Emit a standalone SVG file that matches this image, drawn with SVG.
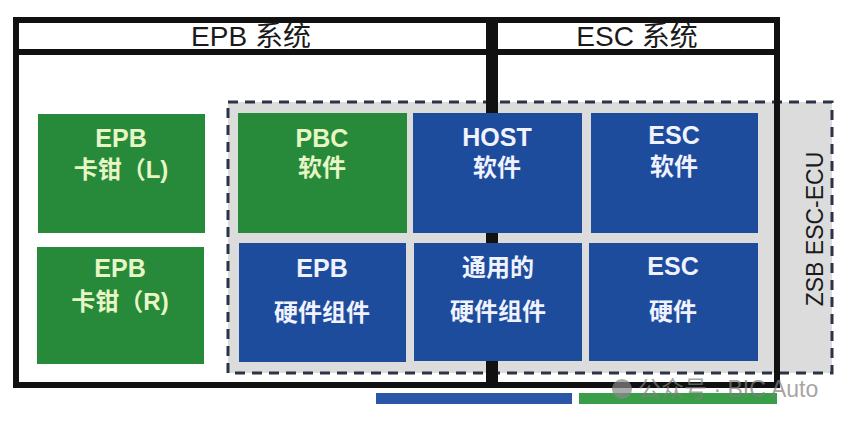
<svg xmlns="http://www.w3.org/2000/svg" width="853" height="423" viewBox="0 0 853 423">
<style>
.hdr{font-family:"Liberation Sans","Noto Sans CJK SC",sans-serif;font-size:28px;fill:#1a1a1a;text-anchor:middle}
.g{fill:#278a3b}
.b{fill:#1e4c9c}
.tl{font-family:"Liberation Sans","Noto Sans CJK SC",sans-serif;font-weight:bold;text-anchor:middle}
.lat{font-size:25px}
.cjk{font-size:24px}
.tg{fill:#e8f6c6}
.tb{fill:#f0f3ff}
</style>
<rect width="853" height="423" fill="#ffffff"/>
<g id="ecu-area">
<rect x="228" y="102" width="604" height="271" fill="#dcdcdc"/>
<rect x="228" y="102" width="604" height="271" fill="none" stroke="#2b3346" stroke-width="3" stroke-dasharray="10 7"/>
<text transform="translate(823,229) rotate(-90)" font-family="Liberation Sans, sans-serif" font-size="23" fill="#1a1a1a" text-anchor="middle">ZSB ESC-ECU</text>
</g>
<g id="frame">
<rect x="16" y="20" width="761" height="365" fill="none" stroke="#111" stroke-width="6"/>
<line x1="16" y1="52" x2="777" y2="52" stroke="#111" stroke-width="6"/>
<line x1="492" y1="20" x2="492" y2="385" stroke="#111" stroke-width="12"/>
<text class="hdr" x="251" y="46">EPB 系统</text>
<text class="hdr" x="637" y="46">ESC 系统</text>
</g>
<g id="epb-l">
<rect class="g" x="38" y="114" width="167" height="119"/>
<text class="tl lat tg" x="121" y="147">EPB</text>
<text class="tl cjk tg" x="121" y="178">卡钳（L)</text>
</g>
<g id="epb-r">
<rect class="g" x="37" y="247" width="167" height="117"/>
<text class="tl lat tg" x="120" y="277">EPB</text>
<text class="tl cjk tg" x="120" y="310">卡钳（R)</text>
</g>
<g id="pbc-sw">
<rect class="g" x="238" y="113" width="169" height="120"/>
<text class="tl lat tg" x="322" y="147">PBC</text>
<text class="tl cjk tg" x="322" y="176">软件</text>
</g>
<g id="host-sw">
<rect class="b" x="413" y="113" width="169" height="120"/>
<text class="tl lat tb" x="497" y="146">HOST</text>
<text class="tl cjk tb" x="497" y="176">软件</text>
</g>
<g id="esc-sw">
<rect class="b" x="591" y="113" width="167" height="120"/>
<text class="tl lat tb" x="674" y="144">ESC</text>
<text class="tl cjk tb" x="674" y="175">软件</text>
</g>
<g id="epb-hw">
<rect class="b" x="239" y="243" width="167" height="119"/>
<text class="tl lat tb" x="322" y="277">EPB</text>
<text class="tl cjk tb" x="322" y="321">硬件组件</text>
</g>
<g id="common-hw">
<rect class="b" x="414" y="243" width="168" height="118"/>
<text class="tl cjk tb" x="498" y="276">通用的</text>
<text class="tl cjk tb" x="498" y="320">硬件组件</text>
</g>
<g id="esc-hw">
<rect class="b" x="589" y="243" width="169" height="118"/>
<text class="tl lat tb" x="673" y="275">ESC</text>
<text class="tl cjk tb" x="673" y="320">硬件</text>
</g>
<g id="bottom-bars">
<rect x="376" y="393" width="196" height="11" fill="#2a56a8"/>
<rect x="579" y="393" width="198" height="11" fill="#3a9e48"/>
</g>
<g id="watermark" opacity="0.7">
<circle cx="622" cy="389" r="10" fill="#888"/>
<text x="638" y="397" font-family="Liberation Sans, Noto Sans CJK SC, sans-serif" font-size="23" fill="#808080">公众号 · BIC Auto</text>
</g>
</svg>
